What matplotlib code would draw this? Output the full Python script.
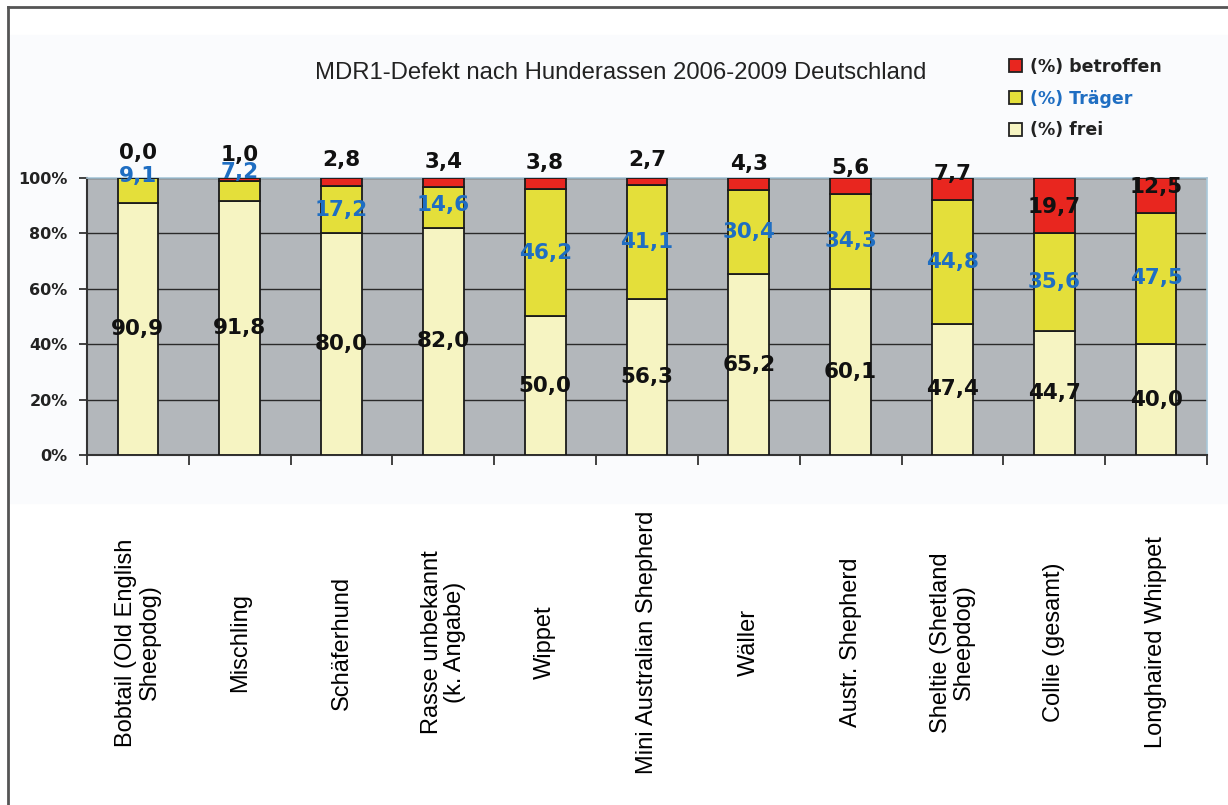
import numpy as np
import matplotlib.pyplot as plt
from matplotlib.patches import Patch, Rectangle
from matplotlib.lines import Line2D

# Data
breeds = ["Bobtail (Old English\nSheepdog)", "Mischling", "Schäferhund",
          "Rasse unbekannt\n(k. Angabe)", "Wippet", "Mini Australian Shepherd",
          "Wäller", "Austr. Shepherd", "Sheltie (Shetland\nSheepdog)",
          "Collie (gesamt)", "Longhaired Whippet"]
frei = [90.9, 91.8, 80.0, 82.0, 50.0, 56.3, 65.2, 60.1, 47.4, 44.7, 40.0]
traeger = [9.1, 7.2, 17.2, 14.6, 46.2, 41.1, 30.4, 34.3, 44.8, 35.6, 47.5]
betroffen = [0.0, 1.0, 2.8, 3.4, 3.8, 2.7, 4.3, 5.6, 7.7, 19.7, 12.5]
yticks = [0, 20, 40, 60, 80, 100]

c_red = "#E8261F"
c_yel = "#E4DF3A"
c_frei = "#F6F4C2"
c_blue = "#1F6EC2"
c_bg = "#B3B7BB"

fig = plt.figure(figsize=(12.28, 8.05), dpi=100)
fig.patch.set_facecolor("white")
# faint chart area and frame
fig.patches.append(Rectangle((8 / 1228, 1 - 503 / 805), 1, (503 - 35) / 805,
                             transform=fig.transFigure, color="#FAFBFD", zorder=-5))
fig.add_artist(Line2D([8 / 1228, 1], [1 - 7 / 805] * 2, transform=fig.transFigure,
                      color="#555555", lw=2))
fig.add_artist(Line2D([8 / 1228] * 2, [0, 1 - 7 / 805], transform=fig.transFigure,
                      color="#555555", lw=2))

ax = fig.add_axes([87 / 1228, 1 - 455 / 805, (1207 - 87) / 1228, (455 - 178) / 805])
ax.set_zorder(2)
ax.set_facecolor(c_bg)

x = np.arange(len(breeds))
frei = np.array(frei)
traeger = np.array(traeger)
betroffen = np.array(betroffen)
w = 0.4
ax.bar(x, frei, w, color=c_frei, edgecolor="#1a1a1a", lw=1.3, zorder=3)
ax.bar(x, traeger, w, bottom=frei, color=c_yel, edgecolor="#1a1a1a", lw=1.3, zorder=3)
ax.bar(x, betroffen, w, bottom=frei + traeger, color=c_red, edgecolor="#1a1a1a", lw=1.3, zorder=3)

ax.set_xlim(-0.5, len(breeds) - 0.5)
ax.set_ylim(0, 100)
ax.set_yticks(yticks)
ax.set_yticklabels([f"{t}%" for t in yticks], fontsize=11.5, fontweight="bold", color="#222222")
ax.yaxis.grid(True, color="#2a2a2a", lw=1, zorder=1)
ax.set_axisbelow(True)
ax.tick_params(axis="y", length=6, width=1.3, color="#333333", pad=8)

ax.set_xticks(x)
ax.set_xticklabels(breeds, rotation=90, ha="center", va="center",
                   family="Liberation Sans", fontsize=17, linespacing=1.1)
ax.set_xticks(np.arange(len(breeds) + 1) - 0.5, minor=True)
ax.tick_params(axis="x", which="major", length=0, pad=135)
ax.tick_params(axis="x", which="minor", length=7, width=1.3, color="#333333")

for s in ["left", "bottom"]:
    ax.spines[s].set_color("#333333")
    ax.spines[s].set_linewidth(1.5)
for s in ["top", "right"]:
    ax.spines[s].set_color("#A9C8DA")
    ax.spines[s].set_linewidth(1.2)

def fmt(v):
    return f"{v:.1f}".replace(".", ",")

lab = dict(ha="center", va="center", fontsize=15.5, fontweight="bold",
           family="DejaVu Sans", zorder=5, clip_on=False)
for i in x:
    ax.text(i, frei[i] / 2, fmt(frei[i]), color="#111111", **lab)
    yc = frei[i] + traeger[i] / 2 + max(0, 16 - traeger[i]) * 0.75
    ax.text(i, yc, fmt(traeger[i]), color=c_blue, **lab)
    ax.text(i, 109.2 - betroffen[i], fmt(betroffen[i]), color="#111111", **lab)

fig.text(621 / 1228, 1 - 73 / 805, "MDR1-Defekt nach Hunderassen 2006-2009 Deutschland",
         ha="center", va="center", fontsize=17.2, family="Liberation Sans", color="#222222")

handles = [Patch(facecolor=c_red, edgecolor="#222222", lw=1.3),
           Patch(facecolor=c_yel, edgecolor="#222222", lw=1.3),
           Patch(facecolor=c_frei, edgecolor="#222222", lw=1.3)]
leg = ax.legend(handles, ["(%) betroffen", "(%) Träger", "(%) frei"],
                loc="upper left", bbox_to_anchor=(1000 / 1228, 1 - 49 / 805),
                bbox_transform=fig.transFigure, frameon=False,
                prop=dict(family="DejaVu Sans", weight="bold", size=12.5),
                handlelength=0.75, handleheight=0.75, handletextpad=0.5,
                labelspacing=0.8, borderpad=0)
for t, c in zip(leg.get_texts(), ["#222222", c_blue, "#222222"]):
    t.set_color(c)

fig.savefig("out.png", dpi=100)
